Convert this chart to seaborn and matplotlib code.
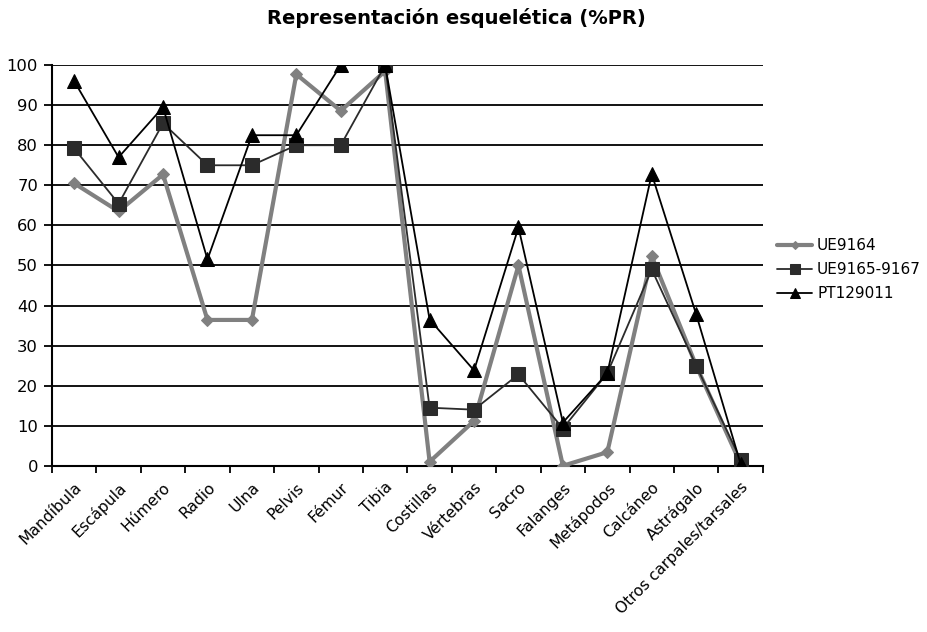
import matplotlib
matplotlib.use("Agg")
import matplotlib.pyplot as plt
import seaborn as sns
import pandas as pd
import numpy as np

categories = ["Mandíbula", "Escápula", "Húmero", "Radio", "Ulna", "Pelvis", "Fémur",
              "Tibia", "Costillas", "Vértebras", "Sacro", "Falanges", "Metápodos",
              "Calcáneo", "Astrágalo", "Otros carpales/tarsales"]
ue9164 = [70.5, 63.5, 72.7, 36.4, 36.4, 97.7, 88.6, 98.5, 1.0, 11.2, 50.0, 0.0, 3.4, 52.3, 25.0, 0.5]
ue9165 = [79.2, 65.4, 85.5, 75.0, 75.0, 80.0, 80.0, 100.0, 14.5, 14.0, 22.8, 9.3, 23.1, 49.0, 25.0, 1.5]
pt129011 = [96.0, 77.0, 89.5, 51.5, 82.5, 82.5, 100.0, 100.0, 36.5, 23.8, 59.5, 10.8, 23.1, 72.8, 37.8, 0.5]
series_names = ["UE9164", "UE9165-9167", "PT129011"]

sns.set_theme(style="white")
plt.rcParams['font.family'] = ['DejaVu Sans']
plt.rcParams['text.color'] = 'black'
plt.rcParams['xtick.color'] = 'black'
plt.rcParams['ytick.color'] = 'black'

fig = plt.figure(figsize=(9.28, 6.32), dpi=100)
ax = fig.add_axes([0.056, 0.263, 0.766, 0.634])

x = np.arange(len(categories))
styles = [
    dict(color="#808080", lw=3.0, marker="D", ms=6.5, mec="#808080"),
    dict(color="#2b2b2b", lw=1.3, marker="s", ms=10, mec="#2b2b2b"),
    dict(color="#000000", lw=1.3, marker="^", ms=10, mec="#000000"),
]
for name, vals, st in zip(series_names, [ue9164, ue9165, pt129011], styles):
    df = pd.DataFrame({"x": x, "y": vals})
    sns.lineplot(data=df, x="x", y="y", ax=ax, sort=False, label=name,
                 color=st["color"], linewidth=st["lw"], marker=st["marker"],
                 markersize=st["ms"], markeredgecolor=st["mec"], zorder=3)

ax.set_xlim(-0.5, len(categories) - 0.5)
ax.set_ylim(0, 100)
ax.set_yticks(range(0, 101, 10))
ax.yaxis.grid(True, color="black", linewidth=1.3)
ax.set_axisbelow(True)
ax.set_xticks(x)
ax.set_xticklabels(categories, rotation=45, ha="right", rotation_mode="anchor", fontsize=11.2)
ax.set_xticks(np.arange(-0.5, len(categories)), minor=True)
ax.tick_params(axis="x", which="major", length=0, pad=10)
ax.tick_params(axis="x", which="minor", length=5, width=1.3, color="black", direction="out", bottom=True)
ax.tick_params(axis="y", length=6, width=1.3, color="black", direction="out", left=True, labelsize=11.8, pad=4)
ax.set_xlabel("")
ax.set_ylabel("")
for s in ["top", "right"]:
    ax.spines[s].set_visible(False)
for s in ["left", "bottom"]:
    ax.spines[s].set_color("black")
    ax.spines[s].set_linewidth(1.5)

fig.text(0.492, 0.972, "Representación esquelética (%PR)", fontsize=14, fontweight="bold",
         ha="center", va="center", color="black")

leg = ax.legend(loc="upper left", bbox_to_anchor=(0.831, 0.633), bbox_transform=fig.transFigure,
                frameon=False, fontsize=11.0, handlelength=2.3, handletextpad=0.3,
                labelspacing=0.6, borderaxespad=0, markerscale=0.65)
for t in leg.get_texts():
    t.set_color("black")

fig.savefig("out.png", dpi=100)
